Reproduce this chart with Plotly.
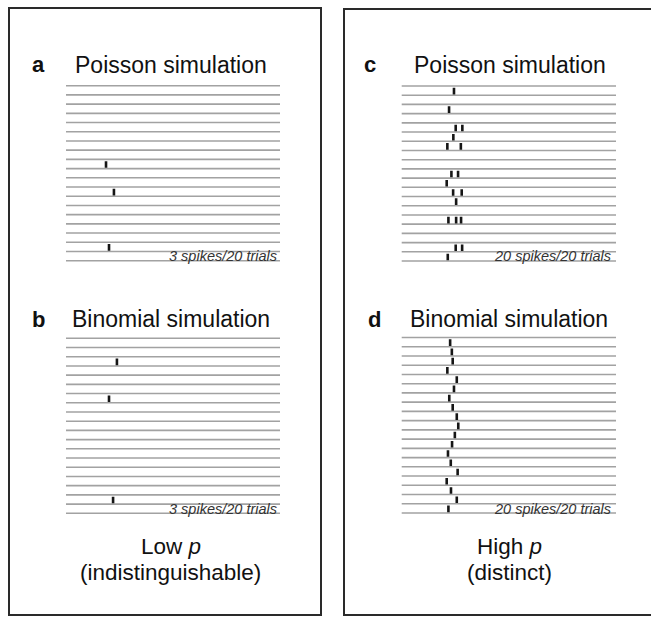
import plotly.graph_objects as go

W, H = 651, 617
N_TRIALS = 20
T_MAX = 100  # time window (arbitrary units)

trials = list(range(1, N_TRIALS + 1))

# a: Poisson simulation, low p
a_trial = [10, 13, 19]
a_time = [18.7, 22.4, 20.1]

# b: Binomial simulation, low p
b_trial = [4, 8, 19]
b_time = [23.8, 20.1, 22.0]

# c: Poisson simulation, high p
c_trial = [2, 4, 6, 6, 7, 8, 8, 11, 11, 12, 13, 13, 14, 16, 16, 16, 19, 19, 20]
c_time = [24.4, 22.1, 25.2, 28.3, 24.1, 21.3, 27.6, 23.2, 26.3, 21.0,
          24.0, 28.0, 25.4, 21.8, 25.4, 27.7, 25.2, 28.2, 21.5]

# d: Binomial simulation, high p
d_trial = list(range(2, 21))
d_time = [22.6, 23.4, 23.8, 21.3, 25.7, 24.4, 22.2, 23.8, 25.7, 26.4,
          24.8, 23.5, 21.6, 22.9, 26.1, 21.0, 23.0, 25.7, 21.8]

panel_letters = ["a", "b", "c", "d"]
panel_titles = ["Poisson simulation", "Binomial simulation",
                "Poisson simulation", "Binomial simulation"]
count_labels = ["3 spikes/20 trials", "3 spikes/20 trials",
                "20 spikes/20 trials", "20 spikes/20 trials"]
condition_labels = [("Low <i>p</i>", "(indistinguishable)"),
                    ("High <i>p</i>", "(distinct)")]

panel_data = [(a_trial, a_time), (b_trial, b_time),
              (c_trial, c_time), (d_trial, d_time)]

FONT = "Liberation Sans, Arial, Helvetica, sans-serif"
LINE_GRAY = "#a2a2a2"
TICK_COLOR = "#151515"

# layout geometry in pixels: (x of time 0, x of time T_MAX, y of trial 1, y of trial 20)
geom = [
    (66.0, 280.0, 85.7, 260.7),
    (66.0, 280.0, 338.3, 513.3),
    (401.7, 616.0, 86.0, 261.0),
    (401.7, 616.0, 337.5, 513.0),
]
X_PAD = 5.0
Y_PAD = 0.6


def fx(px):
    return px / W


def fy(py):
    return 1 - py / H


fig = go.Figure()
layout_axes = {}

for i, (trs, tms) in enumerate(panel_data):
    x0p, x1p, y0p, y1p = geom[i]
    sx = (x1p - x0p) / T_MAX
    sy = (y1p - y0p) / (N_TRIALS - 1)
    dom_x = [fx(x0p - X_PAD * sx), fx(x1p + X_PAD * sx)]
    dom_y = [fy(y1p + Y_PAD * sy), fy(y0p - Y_PAD * sy)]
    n = "" if i == 0 else str(i + 1)
    layout_axes["xaxis" + n] = dict(domain=dom_x, range=[-X_PAD, T_MAX + X_PAD],
                                    visible=False, anchor="y" + n, fixedrange=True)
    layout_axes["yaxis" + n] = dict(domain=dom_y,
                                    range=[N_TRIALS + Y_PAD, 1 - Y_PAD],
                                    visible=False, anchor="x" + n, fixedrange=True)

    # trial baselines
    lx, ly = [], []
    for t in trials:
        lx += [0, T_MAX, None]
        ly += [t, t, None]
    fig.add_trace(go.Scatter(x=lx, y=ly, mode="lines",
                             line=dict(color=LINE_GRAY, width=1.6),
                             hoverinfo="skip", xaxis="x" + n, yaxis="y" + n))

    # spike ticks, drawn just above each trial's baseline
    sxs, sys_ = [], []
    for t, tm in zip(trs, tms):
        sxs += [tm, tm, None]
        sys_ += [t - 0.08, t - 0.8, None]
    fig.add_trace(go.Scatter(x=sxs, y=sys_, mode="lines",
                             line=dict(color=TICK_COLOR, width=2.6),
                             hoverinfo="skip", xaxis="x" + n, yaxis="y" + n))

annotations = []
letter_x = [38, 38, 369.5, 375]
title_x = [171, 171, 509.5, 509]
title_y = [65, 319, 65, 319]
count_x = [279, 279, 613, 613]
count_y = [256.5, 508.5, 256.5, 508.5]

for i in range(4):
    annotations.append(dict(x=fx(letter_x[i]), y=fy(title_y[i]), xref="paper", yref="paper",
                            text="<b>%s</b>" % panel_letters[i], showarrow=False,
                            xanchor="center", yanchor="middle",
                            font=dict(family=FONT, size=22, color="#111")))
    annotations.append(dict(x=fx(title_x[i]), y=fy(title_y[i]), xref="paper", yref="paper",
                            text=panel_titles[i], showarrow=False,
                            xanchor="center", yanchor="middle",
                            font=dict(family=FONT, size=23, color="#111")))
    annotations.append(dict(x=fx(count_x[i]), y=fy(count_y[i]), xref="paper", yref="paper",
                            text="<i>%s</i>" % count_labels[i], showarrow=False,
                            xanchor="right", yanchor="middle",
                            font=dict(family=FONT, size=14.5, color="#333")))

cond_x = [171, 509]
for j, (l1, l2) in enumerate(condition_labels):
    annotations.append(dict(x=fx(cond_x[j]), y=fy(546), xref="paper", yref="paper",
                            text=l1, showarrow=False, xanchor="center", yanchor="middle",
                            font=dict(family=FONT, size=22.5, color="#111")))
    annotations.append(dict(x=fx(cond_x[j]), y=fy(572), xref="paper", yref="paper",
                            text=l2, showarrow=False, xanchor="center", yanchor="middle",
                            font=dict(family=FONT, size=22.5, color="#111")))

shapes = [
    dict(type="rect", xref="paper", yref="paper",
         x0=fx(9), x1=fx(321), y0=fy(615), y1=fy(8),
         line=dict(color="#2a2a2a", width=2)),
    dict(type="rect", xref="paper", yref="paper",
         x0=fx(344), x1=fx(670), y0=fy(615), y1=fy(9),
         line=dict(color="#2a2a2a", width=2)),
]

fig.update_layout(
    width=W, height=H,
    margin=dict(l=0, r=0, t=0, b=0),
    paper_bgcolor="white", plot_bgcolor="white",
    showlegend=False,
    annotations=annotations,
    shapes=shapes,
    **layout_axes,
)

fig.write_html("out.html", config={"displayModeBar": False})
